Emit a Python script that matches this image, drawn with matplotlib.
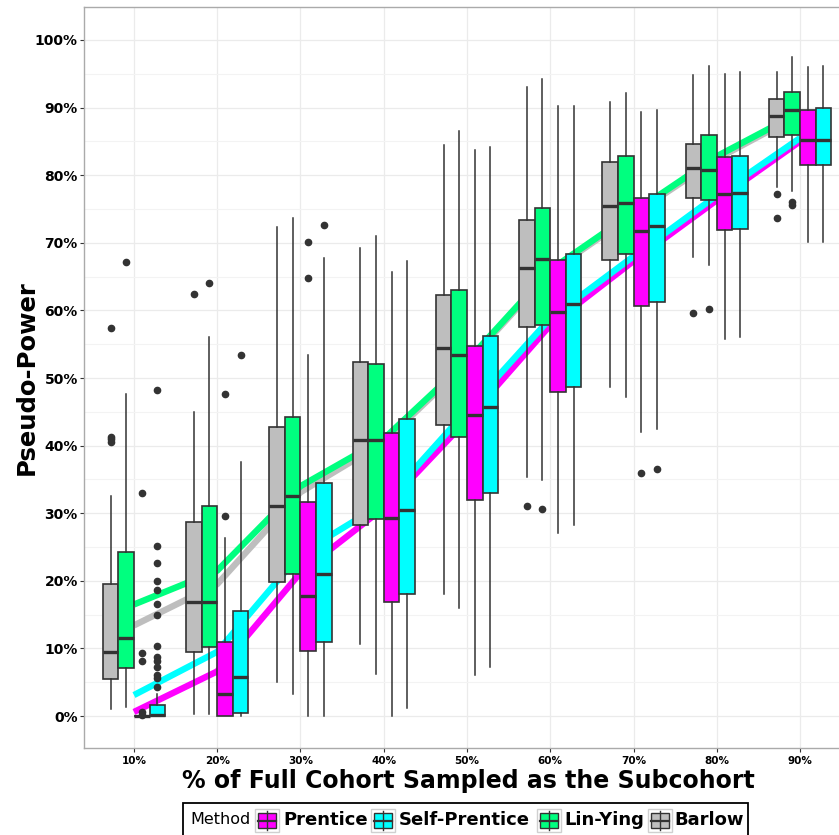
import matplotlib
matplotlib.use("Agg")
import matplotlib.pyplot as plt
from matplotlib.patches import Rectangle
from matplotlib.lines import Line2D

# subcohort fractions (x categories)
levels = ["10%", "20%", "30%", "40%", "50%", "60%", "70%", "80%", "90%"]

# dodge order of the boxes inside each group
box_order = ["Barlow", "Lin-Ying", "Prentice", "Self-Prentice"]
# legend order
legend_order = ["Prentice", "Self-Prentice", "Lin-Ying", "Barlow"]
colors = {"Prentice": "#FF00FF", "Self-Prentice": "#00FFFF",
          "Lin-Ying": "#00FF7F", "Barlow": "#BEBEBE"}

# ---- box statistics (pseudo-power, %) ----
barlow_q1 = [5.5, 9.4, 19.8, 28.2, 43.0, 57.5, 67.4, 76.7, 85.6]
barlow_med = [9.5, 16.9, 31.1, 40.9, 54.5, 66.3, 75.5, 81.0, 88.8]
barlow_q3 = [19.5, 28.7, 42.8, 52.3, 62.3, 73.4, 81.9, 84.6, 91.2]
barlow_lo = [1.1, 0.3, 5.1, 10.6, 18.1, 35.3, 48.7, 67.9, 78.3]
barlow_hi = [32.5, 45.0, 72.3, 69.2, 84.4, 93.0, 90.9, 94.8, 95.3]
barlow_out = [[40.5, 41.0, 41.3, 57.4], [62.5], [], [], [], [31.0], [], [59.6], [77.2, 73.6]]

linying_q1 = [7.1, 10.2, 21.0, 29.1, 41.3, 57.8, 68.3, 76.4, 85.9]
linying_med = [11.6, 16.9, 32.5, 40.8, 53.4, 67.6, 75.9, 80.7, 89.7]
linying_q3 = [24.2, 31.0, 44.3, 52.1, 63.0, 75.1, 82.8, 85.9, 92.3]
linying_lo = [1.4, 0.3, 3.2, 6.2, 16.0, 34.9, 47.2, 66.7, 77.7]
linying_hi = [47.7, 56.1, 73.7, 71.0, 86.5, 94.3, 92.2, 96.2, 97.5]
linying_out = [[67.2], [64.0], [], [], [], [30.6], [], [60.2], [76.1, 75.6]]

prentice_q1 = [0.0, 0.0, 9.6, 16.9, 31.9, 48.0, 60.6, 71.9, 81.5]
prentice_med = [0.0, 3.3, 17.7, 29.3, 44.5, 59.8, 71.8, 77.2, 85.2]
prentice_q3 = [0.0, 11.0, 31.6, 41.9, 54.8, 67.5, 76.7, 82.7, 89.7]
prentice_lo = [0.0, 0.0, 0.0, 0.0, 6.0, 27.1, 42.0, 55.8, 70.1]
prentice_hi = [0.0, 26.3, 53.4, 65.7, 83.7, 90.2, 89.3, 95.0, 96.0]
prentice_out = [[0.1, 0.6, 8.1, 9.3, 33.0], [29.6, 47.6], [64.8, 70.1], [], [], [], [36.0], [], []]

selfp_q1 = [0.0, 0.5, 10.9, 18.1, 33.0, 48.6, 61.2, 72.1, 81.5]
selfp_med = [0.2, 5.8, 21.0, 30.5, 45.7, 61.0, 72.5, 77.4, 85.2]
selfp_q3 = [1.6, 15.5, 34.4, 43.9, 56.2, 68.4, 77.2, 82.9, 90.0]
selfp_lo = [0.0, 0.0, 0.0, 1.2, 7.2, 28.2, 42.5, 56.0, 70.1]
selfp_hi = [3.2, 37.6, 67.7, 67.3, 84.2, 90.2, 89.7, 95.2, 96.2]
selfp_out = [[4.3, 5.6, 6.1, 7.2, 8.1, 8.7, 10.3, 15.0, 16.6, 18.6, 20.0, 22.7, 25.1, 48.2],
             [53.4], [72.6], [], [], [], [36.6], [], []]

# ---- trend lines (mean pseudo-power) ----
barlow_mean = [13.4, 19.5, 33.1, 40.5, 52.2, 65.7, 74.2, 82.4, 89.0]
linying_mean = [16.5, 21.5, 34.0, 41.0, 52.5, 66.0, 74.5, 82.8, 89.3]
prentice_mean = [0.6, 6.6, 21.2, 30.8, 43.8, 57.8, 67.3, 76.3, 85.0]
selfp_mean = [3.1, 9.5, 24.0, 31.5, 45.2, 58.8, 68.0, 77.0, 85.5]

box_data = {
    "Barlow": (barlow_q1, barlow_med, barlow_q3, barlow_lo, barlow_hi, barlow_out),
    "Lin-Ying": (linying_q1, linying_med, linying_q3, linying_lo, linying_hi, linying_out),
    "Prentice": (prentice_q1, prentice_med, prentice_q3, prentice_lo, prentice_hi, prentice_out),
    "Self-Prentice": (selfp_q1, selfp_med, selfp_q3, selfp_lo, selfp_hi, selfp_out),
}
mean_data = {"Prentice": prentice_mean, "Self-Prentice": selfp_mean,
             "Barlow": barlow_mean, "Lin-Ying": linying_mean}

W, H = 839, 835
fig = plt.figure(figsize=(W / 100, H / 100), dpi=100)
ax = fig.add_axes([84 / W, 87 / H, 766 / W, 741 / H])

x = list(range(1, len(levels) + 1))
bw = 0.75 / 4
dark = "#333333"

# grid
ax.set_axisbelow(True)
ax.set_yticks(range(0, 101, 10))
ax.set_yticks(range(5, 101, 10), minor=True)
ax.grid(True, which="major", color="#EBEBEB", lw=0.9)
ax.grid(True, which="minor", axis="y", color="#F3F3F3", lw=0.8)

# lines behind the boxes
for m in ["Prentice", "Self-Prentice", "Barlow", "Lin-Ying"]:
    ax.plot(x, mean_data[m], color=colors[m], lw=4.6, solid_capstyle="butt", zorder=1.5)

# boxes
for k, m in enumerate(box_order):
    q1, med, q3, lo, hi, out = box_data[m]
    stats = []
    for i in range(len(levels)):
        stats.append({"q1": q1[i], "med": med[i], "q3": q3[i],
                      "whislo": lo[i], "whishi": hi[i], "fliers": out[i]})
    pos = [xi + (k - 1.5) * bw for xi in x]
    ax.bxp(stats, positions=pos, widths=bw, patch_artist=True, showcaps=False,
           manage_ticks=False, zorder=2,
           boxprops=dict(facecolor=colors[m], edgecolor=dark, linewidth=1.2),
           medianprops=dict(color=dark, linewidth=2.4, solid_capstyle="butt"),
           whiskerprops=dict(color=dark, linewidth=1.1),
           flierprops=dict(marker="o", markerfacecolor=dark, markeredgecolor=dark,
                           markersize=4.5, linestyle="none"))

ax.set_xlim(0.4, 9.6)
ax.set_ylim(-4.73, 104.88)
ax.set_xticks(x)
ax.set_xticklabels(levels, fontsize=7.5, fontweight="bold")
ax.set_yticklabels([f"{v}%" for v in range(0, 101, 10)], fontsize=10, fontweight="bold")
ax.tick_params(axis="both", which="major", color=dark, length=3, width=0.8)
ax.tick_params(axis="x", pad=3)
ax.tick_params(axis="y", pad=1.5)
ax.tick_params(which="minor", length=0)
for s in ax.spines.values():
    s.set_color("#AAAAAA")
    s.set_linewidth(1.0)

fig.text(27 / W, 1 - 378 / H, "Pseudo-Power", rotation=90, ha="center", va="center",
         fontsize=17.5, fontweight="bold")
fig.text(468 / W, 1 - 781 / H, "% of Full Cohort Sampled as the Subcohort",
         ha="center", va="center", fontsize=17, fontweight="bold")

# legend, drawn by hand at the bottom
def fx(px):
    return px / W

def fy(py):
    return 1 - py / H

fig.patches.append(Rectangle((fx(183), fy(845)), (748 - 183) / W, (845 - 803) / H,
                             transform=fig.transFigure, fill=False, ec="black", lw=1.3))
fig.text(fx(190), fy(820), "Method", ha="left", va="center", fontsize=11.5)
key_x = [255, 371, 537, 648]
label_x = [283, 399, 564, 674]
for kx, lx, m in zip(key_x, label_x, legend_order):
    fig.patches.append(Rectangle((fx(kx), fy(832)), 24 / W, 23 / H, transform=fig.transFigure,
                                 fc="white", ec="#D0D0D0", lw=1.0))
    cx = kx + 12
    fig.lines.append(Line2D([fx(cx), fx(cx)], [fy(811), fy(830)], transform=fig.transFigure,
                            color=dark, lw=1.0))
    fig.patches.append(Rectangle((fx(kx + 3), fy(828)), 18 / W, 15 / H, transform=fig.transFigure,
                                 fc=colors[m], ec=dark, lw=1.0))
    fig.lines.append(Line2D([fx(kx + 3), fx(kx + 21)], [fy(820.5), fy(820.5)],
                            transform=fig.transFigure, color=dark, lw=1.6))
    fig.text(fx(lx), fy(820), m, ha="left", va="center", fontsize=13, fontweight="bold")

fig.savefig("out.png", dpi=100)
